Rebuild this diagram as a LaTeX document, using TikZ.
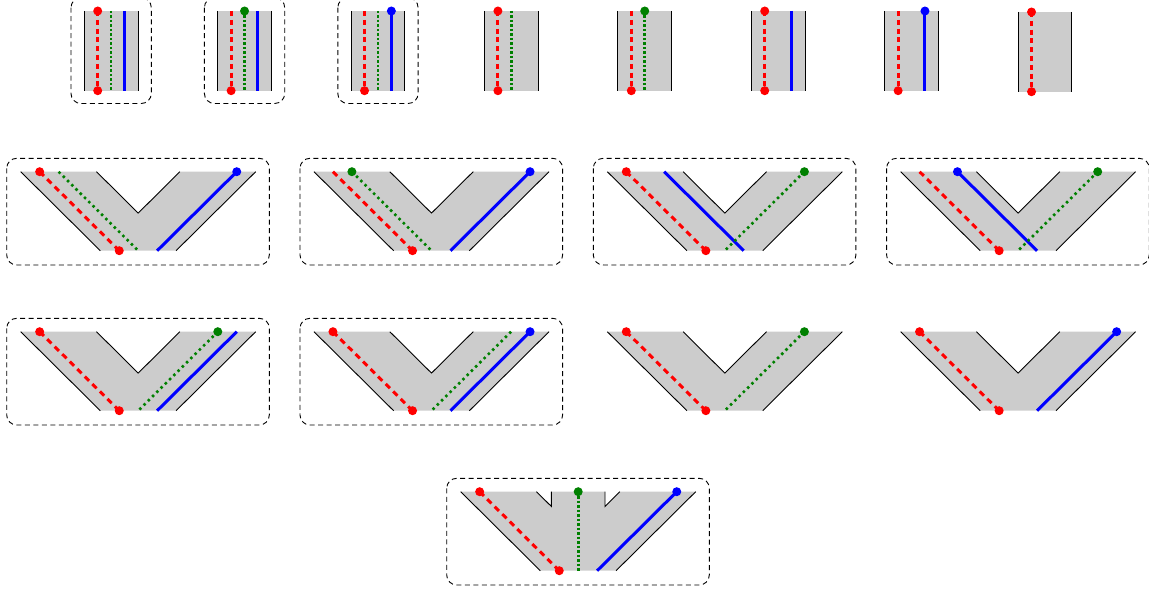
\documentclass[tikz,border=0pt]{standalone}
\def\armA{75.8}
\def\armH{79.6}
\def\armV{79}
\def\apexX{117.5}
\def\apexY{41.4}
\def\slotw{18.95}
\def\midm{26.8}
\def\notchd{14.8}
\def\stripW{53.7}
\def\stripH{79.7}
\def\stripgap{13.42}
\newcommand\stripshape{%
  \fill[shapefill] (0,0) rectangle (\stripW,\stripH);
  \draw[edge] (0,0) -- (0,\stripH);
  \draw[edge] (\stripW,0) -- (\stripW,\stripH);}
\newcommand\sslot[3]{%
  \coordinate (#3t) at ({#2*\stripgap},0);
  \coordinate (#3b) at ({#2*\stripgap},\stripH);
  \draw[#1] (#3t) -- (#3b);}
\newcommand\vshape{%
  \fill[shapefill] (0,0) -- (\armA,0) -- (\apexX,\apexY) -- ({2*\armH},0) -- ({2*\armH+\armA},0) -- ({\armH+\armA},\armV) -- (\armH,\armV) -- cycle;
  \draw[edge] (0,0) -- (\armH,\armV);
  \draw[edge] (\armA,0) -- (\apexX,\apexY) -- ({2*\armH},0);
  \draw[edge] ({2*\armH+\armA},0) -- ({\armH+\armA},\armV);}
\newcommand\yshape{%
  \fill[shapefill] (0,0) -- (\armA,0) -- ({\apexX-\midm},\notchd) -- ({\apexX-\midm},0) -- ({\apexX+\midm},0) -- ({\apexX+\midm},\notchd) -- ({2*\armH},0) -- ({2*\armH+\armA},0) -- ({\armH+\armA},\armV) -- (\armH,\armV) -- cycle;
  \draw[edge] (0,0) -- (\armH,\armV);
  \draw[edge] (\armA,0) -- ({\apexX-\midm},\notchd) -- ({\apexX-\midm},0);
  \draw[edge] ({\apexX+\midm},0) -- ({\apexX+\midm},\notchd) -- ({2*\armH},0);
  \draw[edge] ({2*\armH+\armA},0) -- ({\armH+\armA},\armV);}
\newcommand\lslot[3]{%
  \coordinate (#3t) at ({#2*\slotw},0);
  \coordinate (#3b) at ({\armH+#2*\slotw},\armV);
  \draw[#1] (#3t) -- (#3b);}
\newcommand\rslot[3]{%
  \coordinate (#3t) at ({2*\armH+#2*\slotw},0);
  \coordinate (#3b) at ({\armH+#2*\slotw},\armV);
  \draw[#1] (#3t) -- (#3b);}
\newcommand\dotat[2]{\fill[#1] (#2) circle[radius=4.5pt];}
\newcommand\stripframe{\draw[panelbox] (-13.3,-13.4) rectangle (67,92.5);}
\newcommand\vframe{\draw[panelbox] (-14,-13.4) rectangle (248.6,93.3);}
\begin{document}
\begin{tikzpicture}[x=1pt,y=-1pt,
  shapefill/.style={fill=black!20},
  edge/.style={draw=black,line width=0.9pt},
  redv/.style={draw=red,line width=3pt,dash pattern=on 5pt off 3.8pt},
  redd/.style={draw=red,line width=3pt,dash pattern=on 6pt off 4.6pt},
  greenv/.style={draw=green!50!black,line width=2.6pt,dash pattern=on 2.5pt off 2pt},
  greend/.style={draw=green!50!black,line width=2.6pt,dash pattern=on 2.5pt off 3.5pt},
  bluel/.style={draw=blue,line width=3pt},
  panelbox/.style={draw=black,line width=0.9pt,dash pattern=on 5pt off 3.5pt,rounded corners=10pt},
]
\useasboundingbox (0,0) rectangle (1149,594);
% ---------- top row ----------
\begin{scope}[shift={(84.3,11)}]
  \stripshape \sslot{redv}{1}{r} \sslot{greenv}{2}{g} \sslot{bluel}{3}{b}
  \dotat{red}{rt} \dotat{red}{rb} \stripframe
\end{scope}
\begin{scope}[shift={(217.7,11)}]
  \stripshape \sslot{redv}{1}{r} \sslot{greenv}{2}{g} \sslot{bluel}{3}{b}
  \dotat{red}{rb} \dotat{green!50!black}{gt} \stripframe
\end{scope}
\begin{scope}[shift={(351.1,11)}]
  \stripshape \sslot{redv}{1}{r} \sslot{greenv}{2}{g} \sslot{bluel}{3}{b}
  \dotat{red}{rb} \dotat{blue}{bt} \stripframe
\end{scope}
\begin{scope}[shift={(484.5,11)}]
  \stripshape \sslot{redv}{1}{r} \sslot{greenv}{2}{g}
  \dotat{red}{rt} \dotat{red}{rb}
\end{scope}
\begin{scope}[shift={(617.9,11)}]
  \stripshape \sslot{redv}{1}{r} \sslot{greenv}{2}{g}
  \dotat{red}{rb} \dotat{green!50!black}{gt}
\end{scope}
\begin{scope}[shift={(751.3,11)}]
  \stripshape \sslot{redv}{1}{r} \sslot{bluel}{3}{b}
  \dotat{red}{rt} \dotat{red}{rb}
\end{scope}
\begin{scope}[shift={(884.7,11)}]
  \stripshape \sslot{redv}{1}{r} \sslot{bluel}{3}{b}
  \dotat{red}{rb} \dotat{blue}{bt}
\end{scope}
\begin{scope}[shift={(1018.1,12)}]
  \stripshape \sslot{redv}{1}{r}
  \dotat{red}{rt} \dotat{red}{rb}
\end{scope}
% ---------- second row ----------
\begin{scope}[shift={(20.7,171.7)}]
  \vshape \lslot{redd}{1}{r} \lslot{greend}{2}{g} \rslot{bluel}{3}{b}
  \dotat{red}{rt} \dotat{red}{rb} \dotat{blue}{bt} \vframe
\end{scope}
\begin{scope}[shift={(314.0,171.7)}]
  \vshape \lslot{redd}{1}{r} \lslot{greend}{2}{g} \rslot{bluel}{3}{b}
  \dotat{red}{rb} \dotat{green!50!black}{gt} \dotat{blue}{bt} \vframe
\end{scope}
\begin{scope}[shift={(607.3,171.7)}]
  \vshape \lslot{redd}{1}{r} \lslot{bluel}{3}{b} \rslot{greend}{2}{g}
  \dotat{red}{rt} \dotat{red}{rb} \dotat{green!50!black}{gt} \vframe
\end{scope}
\begin{scope}[shift={(900.6,171.7)}]
  \vshape \lslot{redd}{1}{r} \lslot{bluel}{3}{b} \rslot{greend}{2}{g}
  \dotat{red}{rb} \dotat{blue}{bt} \dotat{green!50!black}{gt} \vframe
\end{scope}
% ---------- third row ----------
\begin{scope}[shift={(20.7,331.7)}]
  \vshape \lslot{redd}{1}{r} \rslot{greend}{2}{g} \rslot{bluel}{3}{b}
  \dotat{red}{rt} \dotat{red}{rb} \dotat{green!50!black}{gt} \vframe
\end{scope}
\begin{scope}[shift={(314.0,331.7)}]
  \vshape \lslot{redd}{1}{r} \rslot{greend}{2}{g} \rslot{bluel}{3}{b}
  \dotat{red}{rt} \dotat{red}{rb} \dotat{blue}{bt} \vframe
\end{scope}
\begin{scope}[shift={(607.3,331.7)}]
  \vshape \lslot{redd}{1}{r} \rslot{greend}{2}{g}
  \dotat{red}{rt} \dotat{red}{rb} \dotat{green!50!black}{gt}
\end{scope}
\begin{scope}[shift={(900.6,331.7)}]
  \vshape \lslot{redd}{1}{r} \rslot{bluel}{3}{b}
  \dotat{red}{rt} \dotat{red}{rb} \dotat{blue}{bt}
\end{scope}
% ---------- fourth row ----------
\begin{scope}[shift={(460.7,491.7)}]
  \yshape \lslot{redd}{1}{r} \rslot{bluel}{3}{b}
  \coordinate (gt) at (\apexX,0);
  \coordinate (gb) at (\apexX,\armV);
  \draw[greenv] (gt) -- (gb);
  \dotat{red}{rt} \dotat{red}{rb} \dotat{green!50!black}{gt} \dotat{blue}{bt} \vframe
\end{scope}
\end{tikzpicture}
\end{document}
